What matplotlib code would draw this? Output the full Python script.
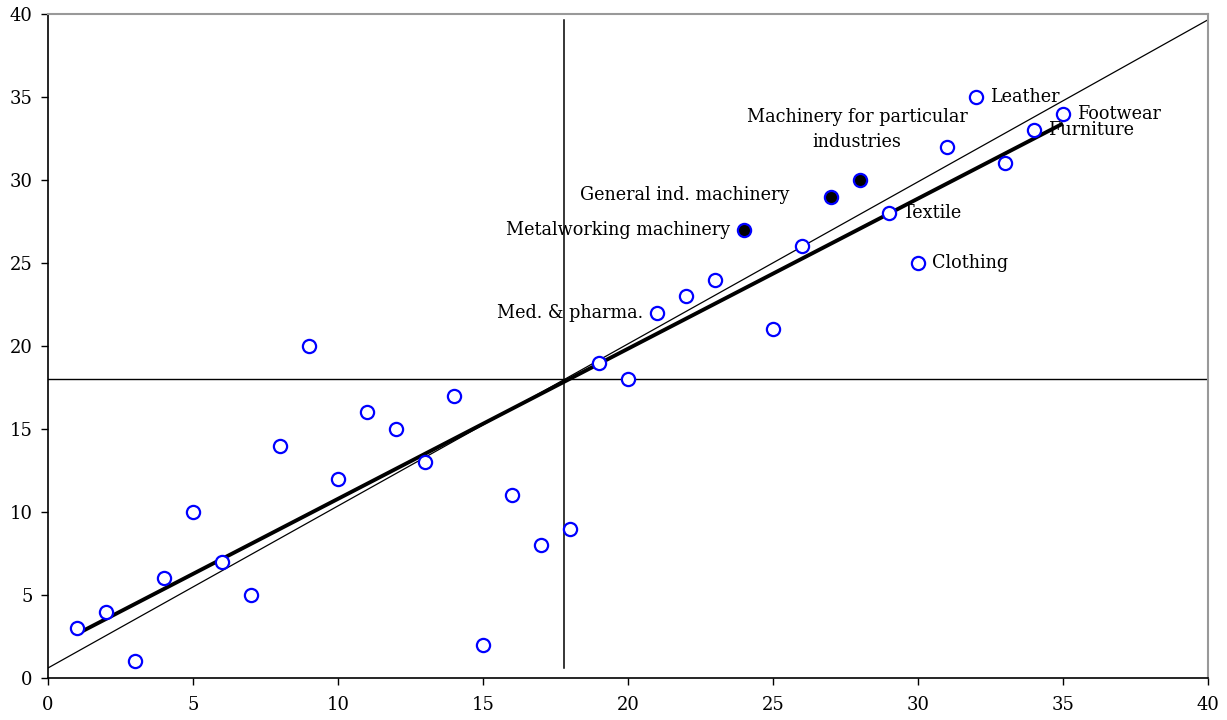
import matplotlib
matplotlib.use("Agg")
import matplotlib.pyplot as plt

x_vals = [1, 2, 3, 4, 5, 6, 7, 8, 9, 10, 11, 12, 13, 14, 15, 16, 17, 18,
          19, 20, 21, 22, 23, 24, 25, 26, 27, 28, 29, 30, 31, 32, 33, 34, 35]
y_vals = [3, 4, 1, 6, 10, 7, 5, 14, 20, 12, 16, 15, 13, 17, 2, 11, 8, 9,
          19, 18, 22, 23, 24, 27, 21, 26, 29, 30, 28, 25, 32, 35, 31, 33, 34]
filled = [24, 27, 28]

# reference lines
mean_x = 17.8
mean_y = 18
thin_x = [0, 40]
thin_y = [0.6, 39.65]
thick_x = [1, 35]
thick_y = [2.65, 33.4]
vline_y = [0.6, 39.65]

labels = [
    (32, 35, "Leather", "right"),
    (35, 34, "Footwear", "right"),
    (34, 33, "Furniture", "right"),
    (29, 28, "Textile", "right"),
    (30, 25, "Clothing", "right"),
    (21, 22, "Med. & pharma.", "left"),
    (24, 27, "Metalworking machinery", "left"),
    (27, 29, "General ind. machinery", "left2"),
    (28, 30, "Machinery for particular\nindustries", "above"),
]

plt.rcParams['font.family'] = ['DejaVu Serif']
fig = plt.figure(figsize=(12.27, 7.2), dpi=100)
ax = fig.add_axes([0.039, 0.0583, 0.9455, 0.9223])

ax.plot(thin_x, thin_y, color='black', lw=0.9, zorder=2)
ax.plot(thick_x, thick_y, color='black', lw=2.8, zorder=2, solid_capstyle='butt')
ax.axhline(mean_y, color='black', lw=1.0, zorder=2)
ax.plot([mean_x, mean_x], vline_y, color='black', lw=1.1, zorder=2)

ox = [x for x in x_vals if x not in filled]
oy = [y for x, y in zip(x_vals, y_vals) if x not in filled]
fx = [x for x in x_vals if x in filled]
fy = [y for x, y in zip(x_vals, y_vals) if x in filled]
ax.plot(ox, oy, 'o', ms=9.5, mfc='white', mec='#0000ff', mew=1.6, ls='none', zorder=3)
ax.plot(fx, fy, 'o', ms=9.5, mfc='black', mec='#0000ff', mew=1.6, ls='none', zorder=3)

fs = 12.7
for x, y, t, pos in labels:
    if pos == "right":
        ax.annotate(t, (x, y), xytext=(10, 0), textcoords='offset points',
                    ha='left', va='center', fontsize=fs)
    elif pos == "left":
        ax.annotate(t, (x, y), xytext=(-10, 0), textcoords='offset points',
                    ha='right', va='center', fontsize=fs)
    elif pos == "left2":
        ax.annotate(t, (x, y), xytext=(-30, 1), textcoords='offset points',
                    ha='right', va='center', fontsize=fs)
    else:
        ax.annotate(t, (x, y), xytext=(-2, 21), textcoords='offset points',
                    ha='center', va='bottom', fontsize=fs, linespacing=1.5)

ax.set_xlim(0, 40)
ax.set_ylim(0, 40)
ax.set_xticks(range(0, 41, 5))
ax.set_yticks(range(0, 41, 5))
ax.tick_params(direction='out', length=5, width=1, labelsize=13, pad=6)
ax.tick_params(axis='x', pad=8)
for s in ['top', 'right']:
    ax.spines[s].set_color('#999999')
    ax.spines[s].set_linewidth(1.5)
for s in ['left', 'bottom']:
    ax.spines[s].set_color('black')
    ax.spines[s].set_linewidth(1.2)

fig.savefig('out.png', dpi=100)
